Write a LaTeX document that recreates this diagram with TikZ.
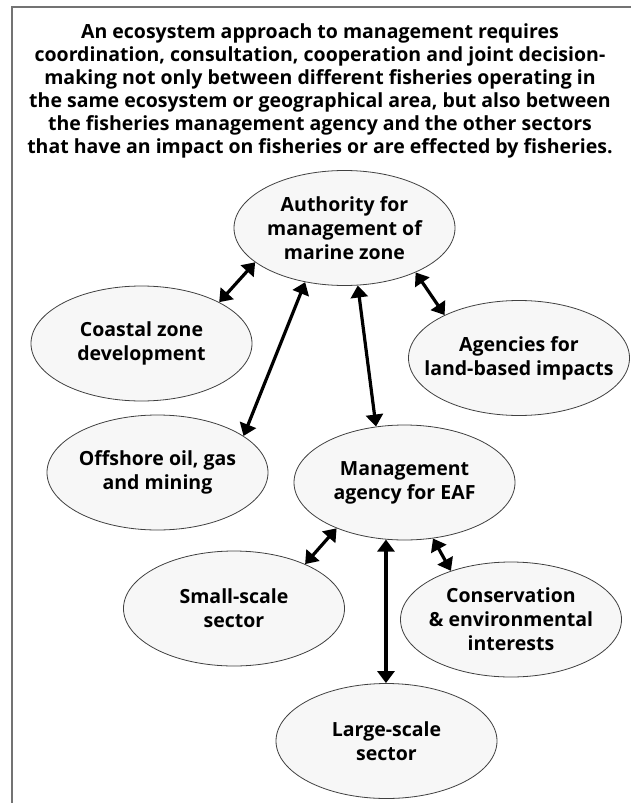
\documentclass[tikz,border=0pt]{standalone}
\usepackage{fontspec}
\setmainfont{Open Sans}
\usetikzlibrary{arrows.meta,shapes.geometric}

\begin{document}
\begin{tikzpicture}[x=1pt, y=-1pt,
		sector/.style = {ellipse, draw=black!75, fill=black!3, line width=0.8pt, align=center, inner xsep=-20pt, inner ysep=-10pt,
						font=\fontsize{19.5}{24}\selectfont\bfseries, minimum width=221pt, minimum height=115pt},
		intro/.style = {align=center, inner sep=0pt, font=\fontsize{19.5}{23}\selectfont\bfseries},
		link/.style = {{Triangle[width=17pt,length=12pt]}-{Triangle[width=17pt,length=12pt]}, line width=3.2pt, black}, ]
	\useasboundingbox (0,0) rectangle (631,803);
	\draw[black!55, line width=1.5pt] (12,803) -- (12,7) -- (631,7);
	\node [intro] (intro) at (320,91) {An ecosystem approach to management requires\\
		coordination, consultation, cooperation and joint decision-\\
		making not only between different fisheries operating in\\
		the same ecosystem or geographical area, but also between\\
		the fisheries management agency and the other sectors\\
		that have an impact on fisheries or are effected by fisheries.};
	\node [sector] (authority) at (344.5,228) {Authority for\\management of\\marine zone};
	\node [sector] (coastal) at (141.5,343.5) {Coastal zone\\development};
	\node [sector] (landbased) at (519,358) {Agencies for\\land-based impacts};
	\node [sector] (offshore) at (157.5,472.5) {Offshore oil, gas\\and mining};
	\node [sector] (eaf) at (404.5,482.5) {Management\\agency for EAF};
	\node [sector] (smallscale) at (234,608.5) {Small-scale\\sector};
	\node [sector] (conservation) at (511,619.5) {Conservation\\\& environmental\\interests};
	\node [sector] (largescale) at (386.5,741) {Large-scale\\sector};
	\draw [link] (authority.201) -- (coastal.28);
	\draw [link] (authority.234) -- (offshore.23);
	\draw [link] (authority.283) -- (eaf.117);
	\draw [link] (authority.328) -- (landbased.150);
	\draw [link] (eaf.214) -- (smallscale.32);
	\draw [link] (eaf.252) -- (eaf.252 |- largescale.north);
	\draw [link] (eaf.297) -- (conservation.141);
\end{tikzpicture}
\end{document}
